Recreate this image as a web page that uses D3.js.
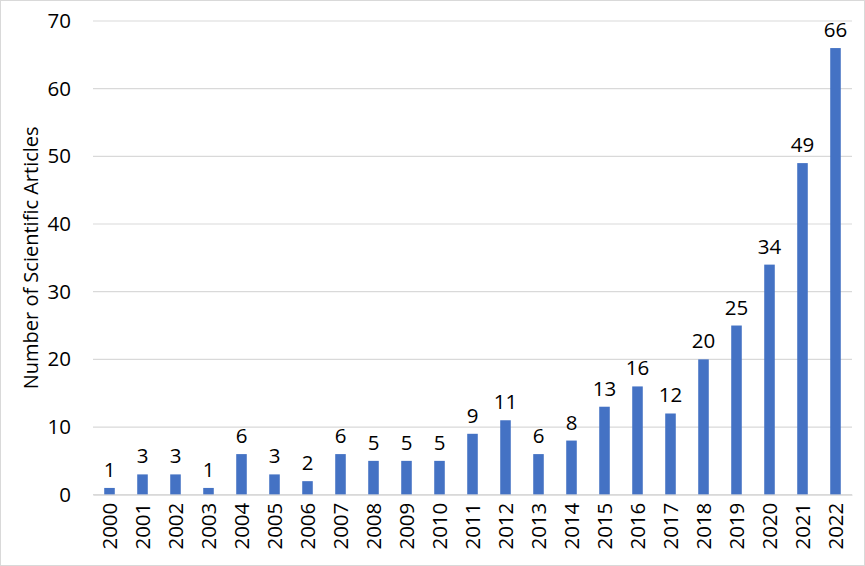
<!DOCTYPE html>
<html><head><meta charset="utf-8">
<script src="https://cdn.jsdelivr.net/npm/d3@7"></script>
<style>body{margin:0;background:#fff}svg{display:block}</style>
</head><body>
<script>
const years = ["2000","2001","2002","2003","2004","2005","2006","2007","2008","2009","2010","2011","2012","2013","2014","2015","2016","2017","2018","2019","2020","2021","2022"];
const articles = [1,3,3,1,6,3,2,6,5,5,5,9,11,6,8,13,16,12,20,25,34,49,66];
const yTicks = [0,10,20,30,40,50,60,70];
const yTitle = "Number of Scientific Articles";

const W = 865, H = 566;
const m = {left:93, right:13, top:21, bottom:71.3};
const font = "'Open Sans', sans-serif";
const svg = d3.select("body").append("svg").attr("width", W).attr("height", H);
svg.append("rect").attr("x",0.5).attr("y",0.5).attr("width",W-1).attr("height",H-1)
  .attr("fill","#fff").attr("stroke","#d9d9d9");

const x = d3.scaleBand().domain(years).range([m.left, W - m.right]).paddingInner(0.68).paddingOuter(0.34);
const y = d3.scaleLinear().domain([0,70]).range([H - m.bottom, m.top]);

const g = svg.append("g");
g.selectAll("line.grid").data(yTicks).join("line").attr("class","grid")
  .attr("x1", m.left).attr("x2", W - m.right)
  .attr("y1", d => y(d)).attr("y2", d => y(d))
  .attr("stroke","#d9d9d9").attr("stroke-width",1.2);

const yAxis = svg.append("g").attr("transform",`translate(${m.left},0)`)
  .call(d3.axisLeft(y).tickValues(yTicks).tickSize(0).tickPadding(22));
yAxis.select(".domain").remove();
yAxis.selectAll("text").attr("font-family",font).attr("font-size",20.5).attr("fill","#000");

g.selectAll("rect.bar").data(articles).join("rect").attr("class","bar")
  .attr("x",(d,i)=>x(years[i])).attr("width",x.bandwidth())
  .attr("y",d=>y(d)).attr("height",d=>y(0)-y(d)).attr("fill","#4472c4");

g.selectAll("text.lbl").data(articles).join("text").attr("class","lbl")
  .attr("x",(d,i)=>x(years[i])+x.bandwidth()/2).attr("y",d=>y(d)-11)
  .attr("text-anchor","middle").attr("font-family",font).attr("font-size",20.5).attr("fill","#000")
  .text(d=>d);

const xAxis = svg.append("g").attr("transform",`translate(0,${y(0)})`)
  .call(d3.axisBottom(x).tickSize(0).tickPadding(0));
xAxis.select(".domain").attr("stroke","#d9d9d9").attr("stroke-width",1.2);
xAxis.selectAll("text").attr("font-family",font).attr("font-size",20.5).attr("fill","#000")
  .attr("transform","rotate(-90)").attr("text-anchor","end").attr("dy","0.35em").attr("x",-8).attr("y",0);

svg.append("text").attr("transform",`translate(38,${(m.top + H - m.bottom)/2}) rotate(-90)`)
  .attr("text-anchor","middle").attr("font-family",font).attr("font-size",20).attr("fill","#000")
  .text(yTitle);
</script>
</body></html>
